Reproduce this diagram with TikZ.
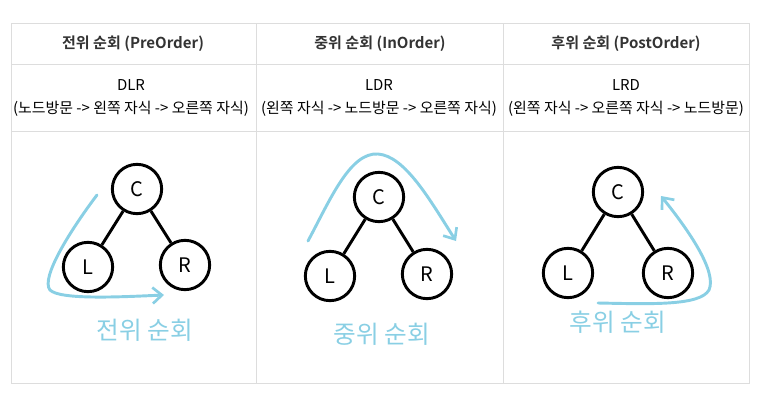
\documentclass[tikz,border=0pt]{standalone}
\usepackage{fontspec}
\setmainfont{Noto Sans CJK KR}
\newfontfamily\krbold{Noto Sans CJK KR Bold}
\usetikzlibrary{arrows.meta,positioning}
\definecolor{gridline}{RGB}{221, 221, 221}
\definecolor{headtext}{RGB}{51, 51, 51}
\definecolor{walk}{RGB}{137, 207, 228}

\begin{document}
\begin{tikzpicture}[x=0.75pt, y=-0.75pt,
            cell/.style={align=center, font=\fontsize{11.2}{17}\selectfont},
            head/.style={cell, text=headtext, font=\krbold\fontsize{11.3}{17}\selectfont},
            tnode/.style={circle, draw, line width=2.2pt, minimum size=37pt, inner sep=0pt, font=\fontsize{15}{15}\selectfont},
            edge/.style={line width=2.2pt},
            walkline/.style={walk, line width=2.2pt, line cap=round, -{Straight Barb[length=7pt, width=12pt, line width=2pt]}},
            walklabel/.style={text=walk, font=\fontsize{18.5}{18.5}\selectfont}]
            
            \useasboundingbox (0,0) rectangle (774,414);
            
            % Tabla
            \draw[gridline] (11,23) rectangle (749,383);
            \draw[gridline] (11,64) -- (749,64);
            \draw[gridline] (11,131) -- (749,131);
            \draw[gridline] (256,23) -- (256,383);
            \draw[gridline] (503,23) -- (503,383);
            
            % Encabezados
            \node[head] (pre) at (133,44) {전위 순회 (PreOrder)};
            \node[head] (in) at (380,44) {중위 순회 (InOrder)};
            \node[head] (post) at (626,44) {후위 순회 (PostOrder)};
            
            \node[cell] (predesc) at (131,98) {DLR\\(노드방문 -> 왼쪽 자식 -> 오른쪽 자식)};
            \node[cell] (indesc) at (379,98) {LDR\\(왼쪽 자식 -> 노드방문 -> 오른쪽 자식)};
            \node[cell] (postdesc) at (626,98) {LRD\\(왼쪽 자식 -> 오른쪽 자식 -> 노드방문)};
            
            % Arbol 1
            \node[tnode] (c1) at (137,189) {C};
            \node[tnode] (l1) at (88,267) {L};
            \node[tnode] (r1) at (185,265) {R};
            \draw[edge] (c1) -- (l1);
            \draw[edge] (c1) -- (r1);
            
            % Arbol 2
            \node[tnode] (c2) at (379,197) {C};
            \node[tnode] (l2) at (330,276) {L};
            \node[tnode] (r2) at (427,274) {R};
            \draw[edge] (c2) -- (l2);
            \draw[edge] (c2) -- (r2);
            
            % Arbol 3
            \node[tnode] (c3) at (618,192) {C};
            \node[tnode] (l3) at (568,273) {L};
            \node[tnode] (r3) at (668,273) {R};
            \draw[edge] (c3) -- (l3);
            \draw[edge] (c3) -- (r3);
            
            % Recorridos
            \coordinate (s1) at (97,195);
            \coordinate (e1) at (164,295);
            \draw[walkline] (s1) .. controls (72,228) and (40,278) .. (50,290)
                .. controls (60,300) and (120,297) .. (e1);
            
            \coordinate (s2) at (308,241);
            \coordinate (e2) at (456,241);
            \draw[walkline] (s2) .. controls (330,200) and (350,152) .. (378,154)
                .. controls (405,156) and (430,200) .. (e2);
            
            \coordinate (s3) at (598,303);
            \coordinate (e3) at (661,196);
            \draw[walkline] (s3) .. controls (650,304) and (700,306) .. (709,290)
                .. controls (717,272) and (690,232) .. (e3);
            
            % Etiquetas
            \node[walklabel] (prelabel) at (145,330) {전위 순회};
            \node[walklabel] (inlabel) at (382,334) {중위 순회};
            \node[walklabel] (postlabel) at (618,322) {후위 순회};
            
\end{tikzpicture}
\end{document}
